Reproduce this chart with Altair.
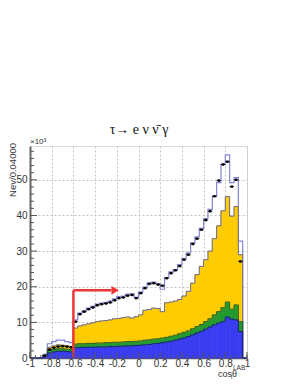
import altair as alt
import pandas as pd

# ---------------- data (values in units of 10^3 events per 0.04 bin) ----------------
edges = [round(-1 + 0.04 * i, 2) for i in range(51)]

outline = [0, 0, 0, 1.0, 4.0, 4.6, 5.0, 5.0, 4.6, 4.3,
           10.7, 12.6, 13.2, 14.0, 14.5, 15.1, 15.4, 15.6, 16.0, 16.6,
           17.2, 17.4, 17.9, 18.0, 17.0, 18.5, 19.9, 21.1, 21.3, 20.9,
           19.3, 22.6, 24.2, 24.8, 26.2, 28.0, 29.5, 32.3, 34.0, 36.4,
           39.1, 41.7, 45.4, 49.2, 54.4, 57.0, 49.2, 50.6, 32.8, 0]

points = [0, 0, 0, 0.6, 2.4, 2.9, 3.2, 3.3, 3.2, 3.0,
          10.2, 12.3, 13.0, 13.7, 14.2, 14.8, 15.1, 15.3, 15.6, 16.2,
          16.8, 17.0, 17.5, 17.7, 16.8, 18.2, 19.6, 20.8, 21.0, 20.6,
          20.3, 22.4, 23.8, 24.6, 25.8, 27.6, 29.0, 32.0, 33.5, 36.0,
          38.7, 41.2, 45.4, 49.8, 54.3, 55.1, 48.1, 50.0, 27.1, 0]

yellow_top = [0, 0, 0, 0.9, 3.0, 3.4, 3.7, 3.6, 3.4, 3.1,
              8.4, 9.0, 9.3, 9.6, 9.9, 10.2, 10.4, 10.5, 10.7, 11.0,
              11.1, 11.3, 11.5, 11.2, 11.6, 12.1, 13.4, 13.6, 14.0, 13.9,
              13.0, 15.5, 15.7, 16.0, 16.4, 17.4, 18.7, 21.0, 23.4, 25.7,
              27.6, 30.0, 33.5, 37.1, 41.3, 45.3, 39.8, 42.5, 29.0, 0]

green_top = [0, 0, 0, 0.8, 2.1, 2.4, 2.6, 2.6, 2.5, 2.4,
             3.9, 4.0, 4.0, 4.1, 4.1, 4.2, 4.2, 4.3, 4.3, 4.4,
             4.4, 4.5, 4.6, 4.6, 4.7, 4.8, 5.0, 5.1, 5.3, 5.4,
             5.6, 5.8, 6.1, 6.4, 6.8, 7.2, 7.6, 8.2, 8.8, 9.4,
             10.2, 11.0, 12.1, 13.0, 14.1, 15.7, 13.7, 14.9, 10.2, 0]

blue_top = [0, 0, 0, 0.7, 1.4, 1.7, 1.9, 1.9, 1.8, 1.7,
            2.9, 2.9, 3.0, 3.0, 3.0, 3.1, 3.1, 3.1, 3.2, 3.2,
            3.3, 3.3, 3.4, 3.4, 3.5, 3.6, 3.7, 3.8, 4.0, 4.1,
            4.3, 4.5, 4.7, 5.0, 5.3, 5.6, 6.0, 6.5, 7.0, 7.5,
            8.1, 8.7, 9.3, 9.8, 10.2, 11.5, 10.9, 10.7, 7.4, 0]

x_ticks = [-1, -0.8, -0.6, -0.4, -0.2, 0, 0.2, 0.4, 0.6, 0.8, 1]
x_minor = [round(-1 + 0.05 * i, 2) for i in range(41)]
y_ticks = [0, 10, 20, 30, 40, 50]
y_minor = [v for v in range(0, 59, 2) if v % 10 != 0]

cut_x = -0.6
arrow_y = 19
arrow_end = -0.25
arrow_head = -0.215

title_text = "τ→ e ν ν\u0304 γ"
ytitle_text = "Nev/0.04000"

# ---------------- frames ----------------
bins = pd.DataFrame({
    "lo": edges[:-1], "hi": edges[1:],
    "mid": [(a + b) / 2 for a, b in zip(edges[:-1], edges[1:])],
    "outline": outline, "points": points,
    "yellow": yellow_top, "green": green_top, "blue": blue_top,
})
filled = bins[bins["outline"] > 0]
pts = bins[bins["points"] > 0]
steps = pd.DataFrame({
    "x": edges,
    "outline": outline + [0], "yellow": yellow_top + [0],
    "green": green_top + [0], "blue": blue_top + [0],
})

xs = alt.Scale(domain=[-1, 1], nice=False, zero=False)
ys = alt.Scale(domain=[0, 59.5], nice=False, zero=False)

xaxis = alt.Axis(values=x_ticks, title=None, ticks=False, tickSize=0,
                 labelExpr="datum.value < 0 ? '-' + format(-datum.value, '~g') : format(datum.value, '~g')",
                 labelFontSize=10, labelColor="#333", labelPadding=0,
                 labelFont="Liberation Sans", labelFlush=False, labelOverlap=False,
                 domainColor="#555", domainWidth=1.5,
                 grid=True, gridDash=[2, 2], gridColor="#c4c4c4", gridWidth=1)
yaxis = alt.Axis(values=y_ticks, title=None, ticks=False, tickSize=0, format="d",
                 labelFontSize=10, labelColor="#333", labelPadding=3,
                 labelFont="Liberation Sans", labelFlush=False, labelOverlap=False,
                 domainColor="#666", domainWidth=2,
                 grid=True, gridDash=[2, 2], gridColor="#c4c4c4", gridWidth=1)


def X(f):
    return alt.X(f, type="quantitative", scale=xs, axis=xaxis)


def Y(f):
    return alt.Y(f, type="quantitative", scale=ys, axis=yaxis)


outline_line = alt.Chart(steps).mark_line(interpolate="step-after", color="#8585d5",
                                          strokeWidth=1.2).encode(x=X("x"), y=Y("outline"))

BLUE, GREEN, YELLOW = "#3a3cf2", "#229a2e", "#ffcc00"
blue_r = alt.Chart(filled).mark_rect(color=BLUE, stroke=BLUE, strokeWidth=0.7).encode(
    x=X("lo"), x2="hi", y=Y("blue"), y2=alt.Y2(datum=0))
green_r = alt.Chart(filled).mark_rect(color=GREEN, stroke=GREEN, strokeWidth=0.7).encode(
    x=X("lo"), x2="hi", y=Y("green"), y2="blue")
yellow_r = alt.Chart(filled).mark_rect(color=YELLOW, stroke=YELLOW, strokeWidth=0.7).encode(
    x=X("lo"), x2="hi", y=Y("yellow"), y2="green")

yellow_l = alt.Chart(steps).mark_line(interpolate="step-after", color="#6a6a9a",
                                      strokeWidth=1).encode(x=X("x"), y=Y("yellow"))
green_l = alt.Chart(steps).mark_line(interpolate="step-after", color="#1c5a2a",
                                     strokeWidth=1).encode(x=X("x"), y=Y("green"))
blue_l = alt.Chart(steps).mark_line(interpolate="step-after", color="#1a1a8a",
                                    strokeWidth=1).encode(x=X("x"), y=Y("blue"))

pt_bar = alt.Chart(pts).mark_rule(color="black", strokeWidth=1).encode(
    x=X("lo"), x2="hi", y=Y("points"))
pt_dot = alt.Chart(pts).mark_square(color="black", size=6, opacity=1).encode(
    x=X("mid"), y=Y("points"))

arrow_df = pd.DataFrame({"x": [cut_x], "x2": [arrow_end], "y": [arrow_y], "h": [arrow_head]})
red_v = alt.Chart(arrow_df).mark_rule(color="#ee3535", strokeWidth=2.5).encode(
    x=X("x"), y=Y("y"), y2=alt.Y2(datum=0))
red_h = alt.Chart(arrow_df).mark_rule(color="#ee3535", strokeWidth=2.5).encode(
    x=X("x"), x2="x2", y=Y("y"))
red_head = alt.Chart(arrow_df).mark_point(shape="triangle-right", filled=True, color="#ee3535",
                                          size=75, opacity=1).encode(x=X("h"), y=Y("y"))

ymaj = alt.Chart(pd.DataFrame({"v": y_ticks})).mark_rule(color="#555", strokeWidth=1).encode(
    y=Y("v"), x=alt.value(0), x2=alt.value(7))
ymin = alt.Chart(pd.DataFrame({"v": y_minor})).mark_rule(color="#555", strokeWidth=1).encode(
    y=Y("v"), x=alt.value(0), x2=alt.value(4))
xmaj = alt.Chart(pd.DataFrame({"v": x_ticks})).mark_rule(color="#555", strokeWidth=1).encode(
    x=X("v"), y=alt.value(212), y2=alt.value(206))
xmin = alt.Chart(pd.DataFrame({"v": x_minor})).mark_rule(color="#555", strokeWidth=1).encode(
    x=X("v"), y=alt.value(212), y2=alt.value(209))


def label(text, x, y, size, font="Liberation Sans", align="left", baseline="middle", angle=0, color="#333"):
    return alt.Chart(pd.DataFrame({"t": [text]})).mark_text(
        align=align, baseline=baseline, fontSize=size, font=font, angle=angle, color=color
    ).encode(x=alt.value(x), y=alt.value(y), text="t:N")


title = label(title_text, 109, -16, 14, font="Liberation Serif", align="center", color="#111")
ytitle = label(ytitle_text, -17, -3, 9.5, align="right", angle=270)
x103 = label("×10³", 0, -4, 8)
xt1 = label("cosθ", 188, 228, 9)
xt2 = label("l", 201, 231, 6)
xt3 = label("LAB", 203, 222, 6.5)

chart = alt.layer(
    outline_line, blue_r, green_r, yellow_r, yellow_l, green_l, blue_l,
    pt_bar, pt_dot, red_v, red_h, red_head, ymaj, ymin, xmaj, xmin,
    title, ytitle, x103, xt1, xt2, xt3
).properties(
    width=217, height=212,
    autosize=alt.AutoSizeParams(type="none"),
    padding={"left": 22, "top": 138, "right": 45, "bottom": 22},
).configure_view(stroke="#999", strokeWidth=1.5).configure(background="white")

chart.save("out.html", embed_options={"renderer": "svg", "actions": False})
